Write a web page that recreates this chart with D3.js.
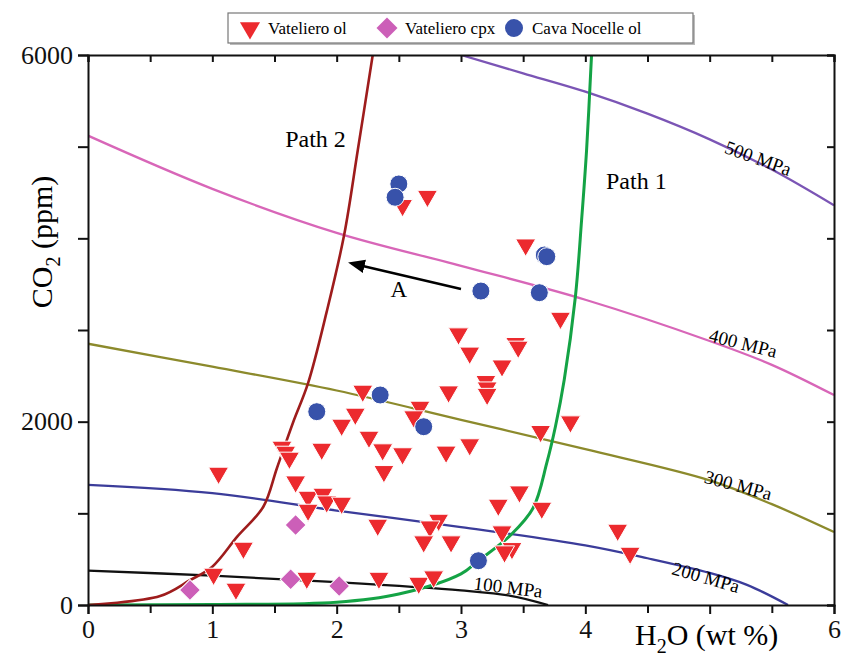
<!DOCTYPE html>
<html>
<head>
<meta charset="utf-8">
<script src="https://cdn.jsdelivr.net/npm/d3@7"></script>
<style>
  body { margin: 0; background: #fff; }
  svg { font-family: 'Liberation Serif', 'Times New Roman', serif; }
  .tick text { font-size: 26px; fill: #111; font-family: 'Liberation Serif', 'Times New Roman', serif; }
  .tick line, .domain { stroke: #111; stroke-width: 2; }
</style>
</head>
<body>
<svg id="chart" width="841" height="657"></svg>
<script>
// ---- data (x: H2O wt%, y: CO2 ppm) ----
var xTicks = [0, 1, 2, 3, 4, 5, 6];
var xTickLabels = ["0", "1", "2", "3", "4", "", "6"];   // "5" sits under the axis title
var yTicks = [0, 2000, 4000, 6000];
var yTickLabels = ["0", "2000", "", "6000"];            // "4000" sits under the axis title

var isobar100 = [[0, 375], [1, 320], [2, 250], [3, 160], [3.4, 100], [3.7, 0]];
var isobar200 = [[0, 1310], [1, 1220], [2, 1030], [3, 850], [4, 650], [4.5, 510], [5, 350], [5.3, 220], [5.63, 0]];
var isobar300 = [[0, 2850], [1, 2600], [2, 2340], [3, 2020], [4, 1700], [5, 1360], [5.5, 1100], [6, 796]];
var isobar400 = [[0, 5120], [1, 4540], [2, 4060], [3, 3700], [4, 3330], [5, 2880], [5.5, 2620], [6, 2290]];
var isobar500 = [[3.0, 6000], [3.5, 5800], [4, 5600], [4.5, 5360], [5, 5080], [5.5, 4750], [6, 4360]];

var path1 = [[0, 0], [1, 5], [2, 30], [2.5, 120], [3, 340], [3.14, 483], [3.4, 764], [3.58, 1058], [3.69, 1550], [3.76, 1950], [3.83, 2455], [3.92, 3363], [3.97, 4200], [4.01, 4963], [4.05, 6000]];
var path2 = [[0, 0], [0.58, 98], [0.82, 270], [1.0, 418], [1.2, 745], [1.41, 1072], [1.52, 1495], [1.65, 1994], [1.77, 2420], [1.92, 3200], [2.06, 4036], [2.17, 4963], [2.29, 6000]];

var vatelieroOl = [
  [2.53, 4360], [2.73, 4460], [3.52, 3930], [3.80, 3130], [2.98, 2960], [3.07, 2750],
  [3.44, 2855], [3.46, 2815], [3.33, 2610], [3.20, 2440], [3.21, 2370], [3.21, 2300],
  [2.90, 2327], [2.21, 2335], [2.67, 2160], [2.62, 2055], [2.15, 2084], [2.04, 1964],
  [2.26, 1833], [2.37, 1695], [2.53, 1652], [2.38, 1458], [2.88, 1670], [3.07, 1750],
  [3.64, 1895], [3.88, 2000], [1.88, 1702], [1.56, 1724], [1.59, 1669], [1.62, 1604],
  [1.67, 1345], [1.05, 1440], [1.77, 1178], [1.89, 1211], [1.92, 1127], [2.04, 1113],
  [1.77, 1036], [1.25, 622], [1.01, 338], [1.19, 175], [1.76, 294], [2.33, 873],
  [2.34, 294], [2.66, 240], [2.78, 309], [3.47, 1236], [3.30, 1091], [3.65, 1058],
  [2.82, 927], [2.75, 854], [2.70, 691], [2.92, 691], [3.33, 800], [3.41, 618],
  [3.35, 582], [4.26, 818], [4.36, 567]
];
var vatelieroCpx = [[0.82, 164], [1.67, 873], [1.63, 280], [2.02, 207]];
var cavaNocelleOl = [
  [2.50, 4593], [2.47, 4448], [3.67, 3818], [3.69, 3800], [3.16, 3425],
  [3.63, 3407], [1.84, 2109], [2.35, 2291], [2.70, 1945], [3.14, 483]
];

var isobarLabels = [
  { text: "100 MPa", x: 3.38, y: 196, rot: 7 },
  { text: "200 MPa", x: 4.97, y: 305, rot: 16 },
  { text: "300 MPa", x: 5.23, y: 1309, rot: 15 },
  { text: "400 MPa", x: 5.27, y: 2858, rot: 14 },
  { text: "500 MPa", x: 5.39, y: 4876, rot: 20 }
];
var arrowA = [[3.0, 3447], [2.21, 3698]];

// ---- layout ----
var svg = d3.select("#chart");
var margin = { top: 55, right: 7, bottom: 52, left: 88 };
var width = 841 - margin.left - margin.right,
    height = 657 - margin.top - margin.bottom;

var x = d3.scaleLinear().domain([0, 6]).range([0, width]);
var y = d3.scaleLinear().domain([0, 6000]).range([height, 0]);

var g = svg.append("g").attr("transform", "translate(" + margin.left + "," + margin.top + ")");

var defs = svg.append("defs");
defs.append("clipPath").attr("id", "clip")
  .append("rect").attr("width", width).attr("height", height);
defs.append("marker").attr("id", "arrow")
  .attr("viewBox", "0 0 10 10").attr("refX", 1).attr("refY", 5)
  .attr("markerWidth", 7).attr("markerHeight", 7).attr("orient", "auto-start-reverse")
  .append("path").attr("d", "M0,1 L10,5 L0,9 z").attr("fill", "#000");

var plot = g.append("g").attr("clip-path", "url(#clip)");

var smooth = d3.line().x(d => x(d[0])).y(d => y(d[1])).curve(d3.curveCatmullRom.alpha(0.5));
var straight = d3.line().x(d => x(d[0])).y(d => y(d[1]));

var lines = [
  { data: isobar100, color: "#111111" },
  { data: isobar200, color: "#3b3c9a" },
  { data: isobar300, color: "#8c8a2c" },
  { data: isobar400, color: "#d866b8" },
  { data: isobar500, color: "#7b55b5" },
  { data: path1, color: "#14a345", w: 3 },
  { data: path2, color: "#9e1c1c", w: 2.6 }
];
lines.forEach(function(l) {
  plot.append("path").attr("d", smooth(l.data))
    .attr("fill", "none").attr("stroke", l.color).attr("stroke-width", l.w || 2.3);
});

// isobar labels
g.selectAll(".isolabel").data(isobarLabels).enter().append("text")
  .attr("transform", d => "translate(" + x(d.x) + "," + y(d.y) + ") rotate(" + d.rot + ")")
  .attr("text-anchor", "middle").attr("dy", "0.35em")
  .style("font-size", "19px").text(d => d.text);

// arrow A
g.append("path").attr("d", straight(arrowA))
  .attr("stroke", "#000").attr("stroke-width", 2.4).attr("fill", "none")
  .attr("marker-end", "url(#arrow)");
g.append("text").attr("x", x(2.5)).attr("y", y(3450)).attr("text-anchor", "middle")
  .attr("dy", "0.35em").style("font-size", "23px").text("A");

// path labels
g.append("text").attr("x", x(1.83)).attr("y", y(5090)).attr("text-anchor", "middle")
  .attr("dy", "0.35em").style("font-size", "24px").text("Path 2");
g.append("text").attr("x", x(4.41)).attr("y", y(4625)).attr("text-anchor", "middle")
  .attr("dy", "0.35em").style("font-size", "24px").text("Path 1");

// markers
var tri = d3.symbol().type(d3.symbolTriangle).size(175);
var dia = d3.symbol().type(d3.symbolSquare).size(220);

g.append("g").selectAll("path").data(vatelieroOl).enter().append("path")
  .attr("d", tri)
  .attr("transform", d => "translate(" + x(d[0]) + "," + y(d[1]) + ") rotate(180)")
  .attr("fill", "#ec2a2e").attr("stroke", "#fff").attr("stroke-width", 1);

g.append("g").selectAll("path").data(vatelieroCpx).enter().append("path")
  .attr("d", dia)
  .attr("transform", d => "translate(" + x(d[0]) + "," + y(d[1]) + ") rotate(45)")
  .attr("fill", "#cc5fb8").attr("stroke", "#fff").attr("stroke-width", 1);

g.append("g").selectAll("circle").data(cavaNocelleOl).enter().append("circle")
  .attr("cx", d => x(d[0])).attr("cy", d => y(d[1])).attr("r", 9)
  .attr("fill", "#3852aa").attr("stroke", "#fff").attr("stroke-width", 1);

// axes: outward ticks on bottom/left, inward mirror ticks on top/right
g.append("g").attr("transform", "translate(0," + height + ")")
  .call(d3.axisBottom(x).tickValues(xTicks).tickFormat((d, i) => xTickLabels[i]).tickSize(9).tickPadding(6));
g.append("g").attr("transform", "translate(0," + height + ")")
  .call(d3.axisBottom(x).tickValues(d3.range(0.5, 6, 1)).tickFormat("").tickSize(8))
  .call(a => a.select(".domain").remove());
g.append("g")
  .call(d3.axisLeft(y).tickValues(yTicks).tickSize(10).tickPadding(5).tickFormat((d, i) => yTickLabels[i]));
g.append("g")
  .call(d3.axisLeft(y).tickValues([1000, 3000, 5000]).tickFormat("").tickSize(10))
  .call(a => a.select(".domain").remove());
g.append("g")
  .call(d3.axisTop(x).tickValues(d3.range(0, 6.01, 0.5)).tickFormat("").tickSize(-7));
g.append("g").attr("transform", "translate(" + width + ",0)")
  .call(d3.axisRight(y).tickValues(d3.range(0, 6001, 1000)).tickFormat("").tickSize(-7));

// axis titles
var xt = svg.append("text").attr("x", 635).attr("y", 645).attr("text-anchor", "start")
  .style("font-size", "30px");
xt.append("tspan").text("H");
xt.append("tspan").attr("dy", 8).style("font-size", "20px").text("2");
xt.append("tspan").attr("dy", -8).text("O (wt %)");

var yt = svg.append("text").attr("transform", "translate(52,242) rotate(-90)")
  .attr("text-anchor", "middle").style("font-size", "30px");
yt.append("tspan").text("CO");
yt.append("tspan").attr("dy", 8).style("font-size", "20px").text("2");
yt.append("tspan").attr("dy", -8).text(" (ppm)");

// legend
var legend = svg.append("g").attr("transform", "translate(228,13)");
legend.append("rect").attr("x", 2).attr("y", 2).attr("width", 465).attr("height", 30).attr("fill", "#bbb");
legend.append("rect").attr("width", 465).attr("height", 30).attr("fill", "#fff")
  .attr("stroke", "#777").attr("stroke-width", 1.2);
var items = [
  { label: "Vateliero ol", sym: tri, rot: 180, color: "#ec2a2e", x: 22 },
  { label: "Vateliero cpx", sym: dia, rot: 45, color: "#cc5fb8", x: 159 },
  { label: "Cava Nocelle ol", sym: null, color: "#3852aa", x: 286 }
];
items.forEach(function(it) {
  if (it.sym) {
    legend.append("path").attr("d", it.sym)
      .attr("transform", "translate(" + it.x + ",15) rotate(" + it.rot + ")").attr("fill", it.color);
  } else {
    legend.append("circle").attr("cx", it.x).attr("cy", 15).attr("r", 9).attr("fill", it.color);
  }
  legend.append("text").attr("x", it.x + 18).attr("y", 15).attr("dy", "0.35em")
    .style("font-size", "17px").text(it.label);
});
</script>
</body>
</html>
